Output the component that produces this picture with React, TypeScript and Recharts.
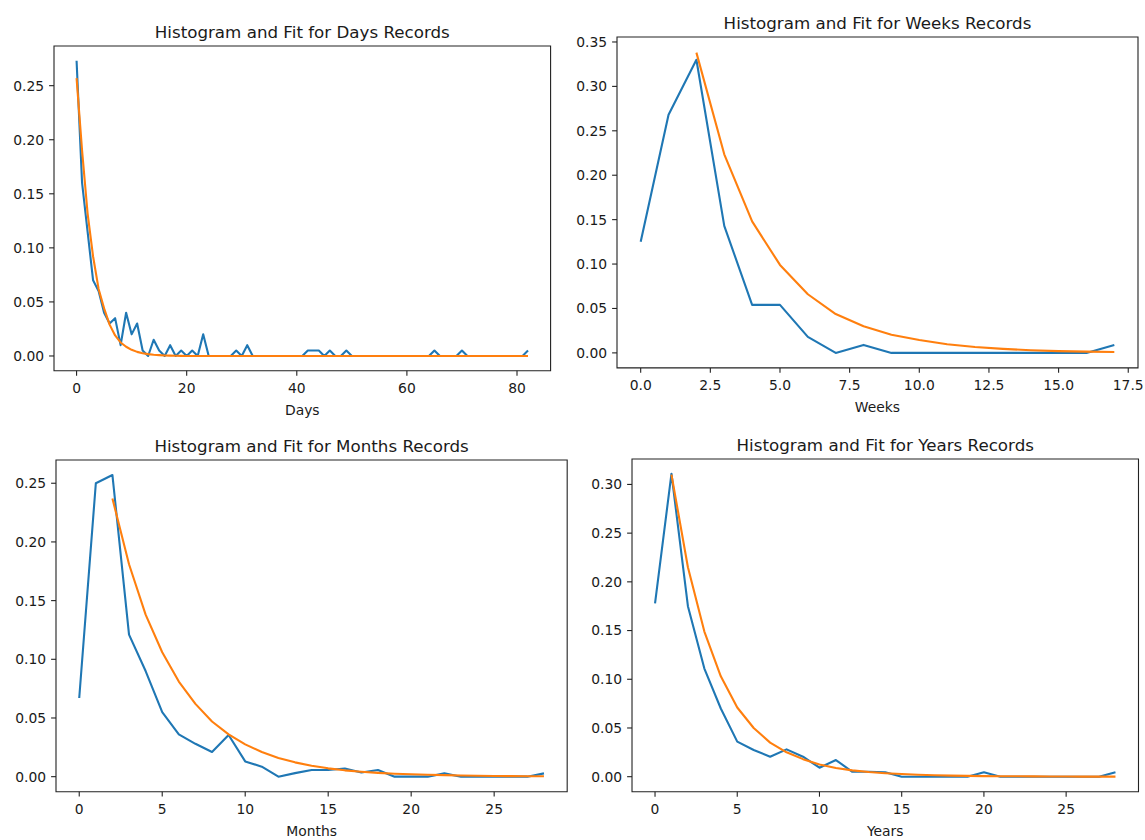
import React from "react";
import { Line, LineChart, ReferenceArea, XAxis, YAxis } from "recharts";

const BLUE = "#1f77b4";
const ORANGE = "#ff7f0e";
const INK = "#1a1a1a";
const SPINE = "#222";

// Days: histogram (blue) and fit (orange), one value per day 0..82
const dayHist = [
  0.273, 0.16, 0.115, 0.07, 0.06, 0.04, 0.03, 0.035, 0.01, 0.04,
  0.02, 0.03, 0.005, 0, 0.015, 0.005, 0, 0.01, 0, 0.005,
  0, 0.005, 0, 0.02, 0, 0, 0, 0, 0, 0.005,
  0, 0.01, 0, 0, 0, 0, 0, 0, 0, 0,
  0, 0, 0.005, 0.005, 0.005, 0, 0.005, 0, 0, 0.005,
  0, 0, 0, 0, 0, 0, 0, 0, 0, 0,
  0, 0, 0, 0, 0, 0.005, 0, 0, 0, 0,
  0.005, 0, 0, 0, 0, 0, 0, 0, 0, 0,
  0, 0, 0.005,
];
const dayFit = [
  0.257, 0.19, 0.132, 0.092, 0.062, 0.044, 0.029, 0.019, 0.0125, 0.0085,
  0.0057, 0.0038, 0.0026, 0.0017, 0.0011, 0.0008, 0.0005, 0.0003, 0.0002, 0.0001,
  0, 0, 0, 0, 0, 0, 0, 0, 0, 0,
  0, 0, 0, 0, 0, 0, 0, 0, 0, 0,
  0, 0, 0, 0, 0, 0, 0, 0, 0, 0,
  0, 0, 0, 0, 0, 0, 0, 0, 0, 0,
  0, 0, 0, 0, 0, 0, 0, 0, 0, 0,
  0, 0, 0, 0, 0, 0, 0, 0, 0, 0,
  0, 0, 0,
];

// Weeks 0..17
const weekHist = [0.125, 0.268, 0.33, 0.143, 0.054, 0.054, 0.018, 0, 0.009, 0, 0, 0, 0, 0, 0, 0, 0, 0.009];
const weekFit = [null, null, 0.338, 0.2235, 0.148, 0.099, 0.066, 0.0437, 0.03, 0.0205, 0.0145, 0.0098, 0.0066, 0.0045, 0.003, 0.002, 0.0014, 0.001];

// Months 0..28
const monthHist = [
  0.067, 0.25, 0.257, 0.121, 0.09, 0.055, 0.036, 0.028, 0.021, 0.0355,
  0.013, 0.0085, 0, 0.003, 0.0057, 0.0057, 0.007, 0.0035, 0.0057, 0,
  0, 0, 0.0028, 0, 0, 0, 0, 0, 0.0028,
];
const monthFit = [
  null, null, 0.237, 0.181, 0.138, 0.106, 0.081, 0.062, 0.047, 0.036,
  0.0275, 0.021, 0.016, 0.0122, 0.0093, 0.0071, 0.0054, 0.0042, 0.0032, 0.0025,
  0.002, 0.0016, 0.0013, 0.001, 0.0008, 0.0006, 0.0005, 0.0004, 0.0003,
];

// Years 0..28
const yearHist = [
  0.178, 0.311, 0.175, 0.111, 0.07, 0.036, 0.0274, 0.0205, 0.028, 0.0205,
  0.0092, 0.0171, 0.005, 0.005, 0.0046, 0, 0, 0, 0, 0,
  0.0046, 0, 0, 0, 0, 0, 0, 0, 0.0046,
];
const yearFit = [
  null, 0.31, 0.215, 0.149, 0.103, 0.071, 0.05, 0.035, 0.025, 0.018,
  0.0125, 0.009, 0.0065, 0.0048, 0.0036, 0.0027, 0.002, 0.0015, 0.0011, 0.0008,
  0.0006, 0.0005, 0.0004, 0.0003, 0.0002, 0.0002, 0.0001, 0.0001, 0.0001,
];

const dayTicks = [0, 20, 40, 60, 80];
const weekTicks = [0, 2.5, 5, 7.5, 10, 12.5, 15, 17.5];
const monthTicks = [0, 5, 10, 15, 20, 25];
const yearTicks = [0, 5, 10, 15, 20, 25];
const y025 = [0, 0.05, 0.1, 0.15, 0.2, 0.25];
const y035 = [0, 0.05, 0.1, 0.15, 0.2, 0.25, 0.3, 0.35];
const y030 = [0, 0.05, 0.1, 0.15, 0.2, 0.25, 0.3];

interface Box { L: number; T: number; R: number; B: number }

interface PanelProps {
  title: string;
  xLabel: string;
  hist: (number | null)[];
  fit: (number | null)[];
  xDomain: [number, number];
  yDomain: [number, number];
  xTicks: number[];
  yTicks: number[];
  xDigits: number;
  box: Box;
}

function Panel({ title, xLabel, hist, fit, xDomain, yDomain, xTicks, yTicks, xDigits, box }: PanelProps) {
  const data = hist.map((h, i) => ({ x: i, hist: h, fit: fit[i] }));
  const yw = 50, xh = 44.4, mt = 30, mr = 6, mb = 4;
  const width = box.R - box.L + yw + mr;
  const height = box.B - box.T + mt + xh + mb;
  return (
    <div style={{ position: "absolute", left: box.L - yw, top: box.T - mt }}>
      <LineChart width={width} height={height} data={data} margin={{ top: mt, right: mr, bottom: mb, left: 0 }}>
        <XAxis
          dataKey="x"
          type="number"
          domain={xDomain}
          ticks={xTicks}
          interval={0}
          allowDataOverflow
          height={xh}
          tickSize={4.9}
          tickMargin={7.5}
          axisLine={false}
          tickLine={{ stroke: SPINE, strokeWidth: 1.1 }}
          tick={{ fontSize: 13.9, fill: INK }}
          tickFormatter={(v: number) => v.toFixed(xDigits)}
          label={{ value: xLabel, position: "insideBottom", offset: 0, fontSize: 13.9, fill: INK }}
        />
        <YAxis
          type="number"
          domain={yDomain}
          ticks={yTicks}
          interval={0}
          allowDataOverflow
          width={yw}
          tickSize={4.9}
          tickMargin={5}
          axisLine={false}
          tickLine={{ stroke: SPINE, strokeWidth: 1.1 }}
          tick={{ fontSize: 13.9, fill: INK }}
          tickFormatter={(v: number) => v.toFixed(2)}
        />
        <ReferenceArea
          x1={xDomain[0]}
          x2={xDomain[1]}
          y1={yDomain[0]}
          y2={yDomain[1]}
          fill="none"
          stroke={SPINE}
          strokeWidth={1.1}
          ifOverflow="visible"
          label={{ value: title, position: "top", offset: 8.3, fontSize: 16.7, fill: INK }}
        />
        <Line type="linear" dataKey="hist" stroke={BLUE} strokeWidth={2.1} strokeLinejoin="round" dot={false} activeDot={false} isAnimationActive={false} />
        <Line type="linear" dataKey="fit" stroke={ORANGE} strokeWidth={2.1} strokeLinejoin="round" dot={false} activeDot={false} isAnimationActive={false} />
      </LineChart>
    </div>
  );
}

export default function App() {
  return (
    <div
      style={{
        position: "absolute",
        left: 0,
        top: 0,
        width: 1145,
        height: 840,
        overflow: "hidden",
        background: "#fff",
        fontFamily: "'DejaVu Sans', sans-serif",
      }}
    >
      <Panel
        title="Histogram and Fit for Days Records"
        xLabel="Days"
        hist={dayHist}
        fit={dayFit}
        xDomain={[-4.1, 86.1]}
        yDomain={[-0.0137, 0.2867]}
        xTicks={dayTicks}
        yTicks={y025}
        xDigits={0}
        box={{ L: 53.7, T: 46, R: 550.3, B: 370.8 }}
      />
      <Panel
        title="Histogram and Fit for Weeks Records"
        xLabel="Weeks"
        hist={weekHist}
        fit={weekFit}
        xDomain={[-0.85, 17.85]}
        yDomain={[-0.0169, 0.3556]}
        xTicks={weekTicks}
        yTicks={y035}
        xDigits={1}
        box={{ L: 617, T: 37.3, R: 1138, B: 368.2 }}
      />
      <Panel
        title="Histogram and Fit for Months Records"
        xLabel="Months"
        hist={monthHist}
        fit={monthFit}
        xDomain={[-1.4, 29.4]}
        yDomain={[-0.0128, 0.2698]}
        xTicks={monthTicks}
        yTicks={y025}
        xDigits={0}
        box={{ L: 55.8, T: 460, R: 567, B: 791.7 }}
      />
      <Panel
        title="Histogram and Fit for Years Records"
        xLabel="Years"
        hist={yearHist}
        fit={yearFit}
        xDomain={[-1.4, 29.4]}
        yDomain={[-0.0155, 0.3261]}
        xTicks={yearTicks}
        yTicks={y030}
        xDigits={0}
        box={{ L: 632, T: 459, R: 1138.5, B: 791.8 }}
      />
    </div>
  );
}
